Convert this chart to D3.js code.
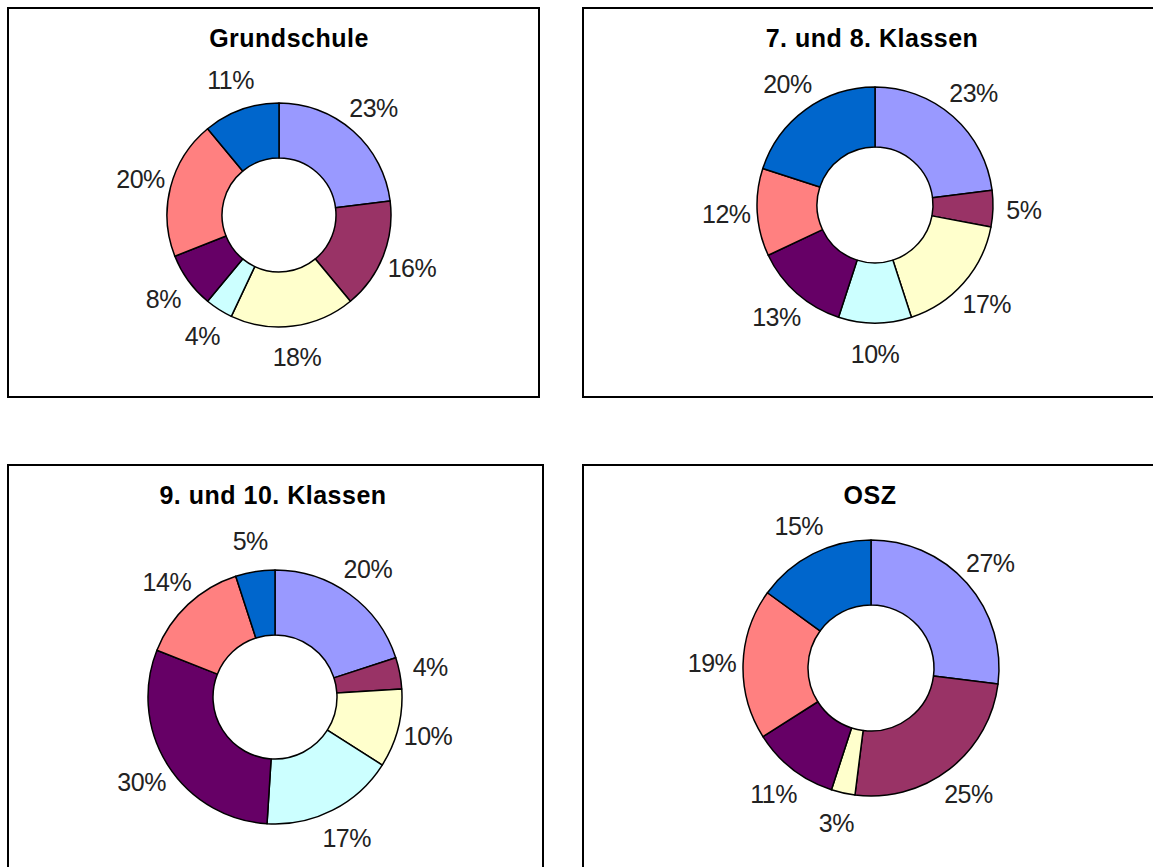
<!DOCTYPE html>
<html>
<head>
<meta charset="utf-8">
<script src="https://cdn.jsdelivr.net/npm/d3@7"></script>
<style>
  html, body { margin: 0; padding: 0; background: #fff; }
  svg { display: block; }
</style>
</head>
<body>
<svg id="chart" width="1153" height="867"></svg>
<script>
// ---- Data ----
const categories = ["Kat. 1", "Kat. 2", "Kat. 3", "Kat. 4", "Kat. 5", "Kat. 6", "Kat. 7"];
const titles = ["Grundschule", "7. und 8. Klassen", "9. und 10. Klassen", "OSZ"];
const grundschule = [23, 16, 18, 4, 8, 20, 11];
const klassen78   = [23, 5, 17, 10, 13, 12, 20];
const klassen910  = [20, 4, 10, 17, 30, 14, 5];
const osz         = [27, 25, 3, 0, 11, 19, 15];
const seriesList = [grundschule, klassen78, klassen910, osz];
const colors = ["#9999FF", "#993366", "#FFFFCC", "#CCFFFF", "#660066", "#FF8080", "#0066CC"];

// ---- Layout (panels) ----
const panels = [
  { x: 8,   y: 8,   w: 531, h: 389, tx: 289, ty: 47,  cx: 279, cy: 215, r: 112, ri: 57 },
  { x: 583, y: 8,   w: 580, h: 389, tx: 872, ty: 47,  cx: 875, cy: 205, r: 118, ri: 58 },
  { x: 8,   y: 465, w: 535, h: 420, tx: 273, ty: 504, cx: 275, cy: 697, r: 127, ri: 62 },
  { x: 583, y: 465, w: 580, h: 420, tx: 870, ty: 504, cx: 871, cy: 668, r: 128, ri: 63 }
];

const svg = d3.select("#chart");
const color = d3.scaleOrdinal().domain(categories).range(colors);
const pie = d3.pie().sort(null).value(d => d.value);

panels.forEach((p, i) => {
  const g = svg.append("g");
  g.append("rect")
    .attr("x", p.x).attr("y", p.y).attr("width", p.w).attr("height", p.h)
    .attr("fill", "#fff").attr("stroke", "#000").attr("stroke-width", 2);

  g.append("text")
    .attr("x", p.tx).attr("y", p.ty)
    .attr("text-anchor", "middle")
    .attr("font-family", "'Liberation Sans', Arial, sans-serif")
    .attr("font-weight", "bold")
    .attr("font-size", 25)
    .attr("letter-spacing", 0.5)
    .attr("fill", "#000")
    .text(titles[i]);

  const data = categories.map((c, k) => ({ cat: c, value: seriesList[i][k] }));
  const arcs = pie(data).filter(a => a.data.value > 0);
  const arc = d3.arc().innerRadius(p.ri).outerRadius(p.r);

  const dg = g.append("g").attr("transform", `translate(${p.cx},${p.cy})`);
  dg.selectAll("path").data(arcs).join("path")
    .attr("d", arc)
    .attr("fill", d => color(d.data.cat))
    .attr("stroke", "#000")
    .attr("stroke-width", 1.5)
    .attr("stroke-linejoin", "round");

  const lr = p.r + 31;
  dg.selectAll("text").data(arcs).join("text")
    .attr("x", d => Math.sin((d.startAngle + d.endAngle) / 2) * lr)
    .attr("y", d => -Math.cos((d.startAngle + d.endAngle) / 2) * lr)
    .attr("text-anchor", "middle")
    .attr("dominant-baseline", "central")
    .attr("font-family", "'Liberation Sans', Arial, sans-serif")
    .attr("font-size", 25)
    .attr("letter-spacing", -0.5)
    .attr("fill", "#222")
    .text(d => d.data.value + "%");
});
</script>
</body>
</html>
